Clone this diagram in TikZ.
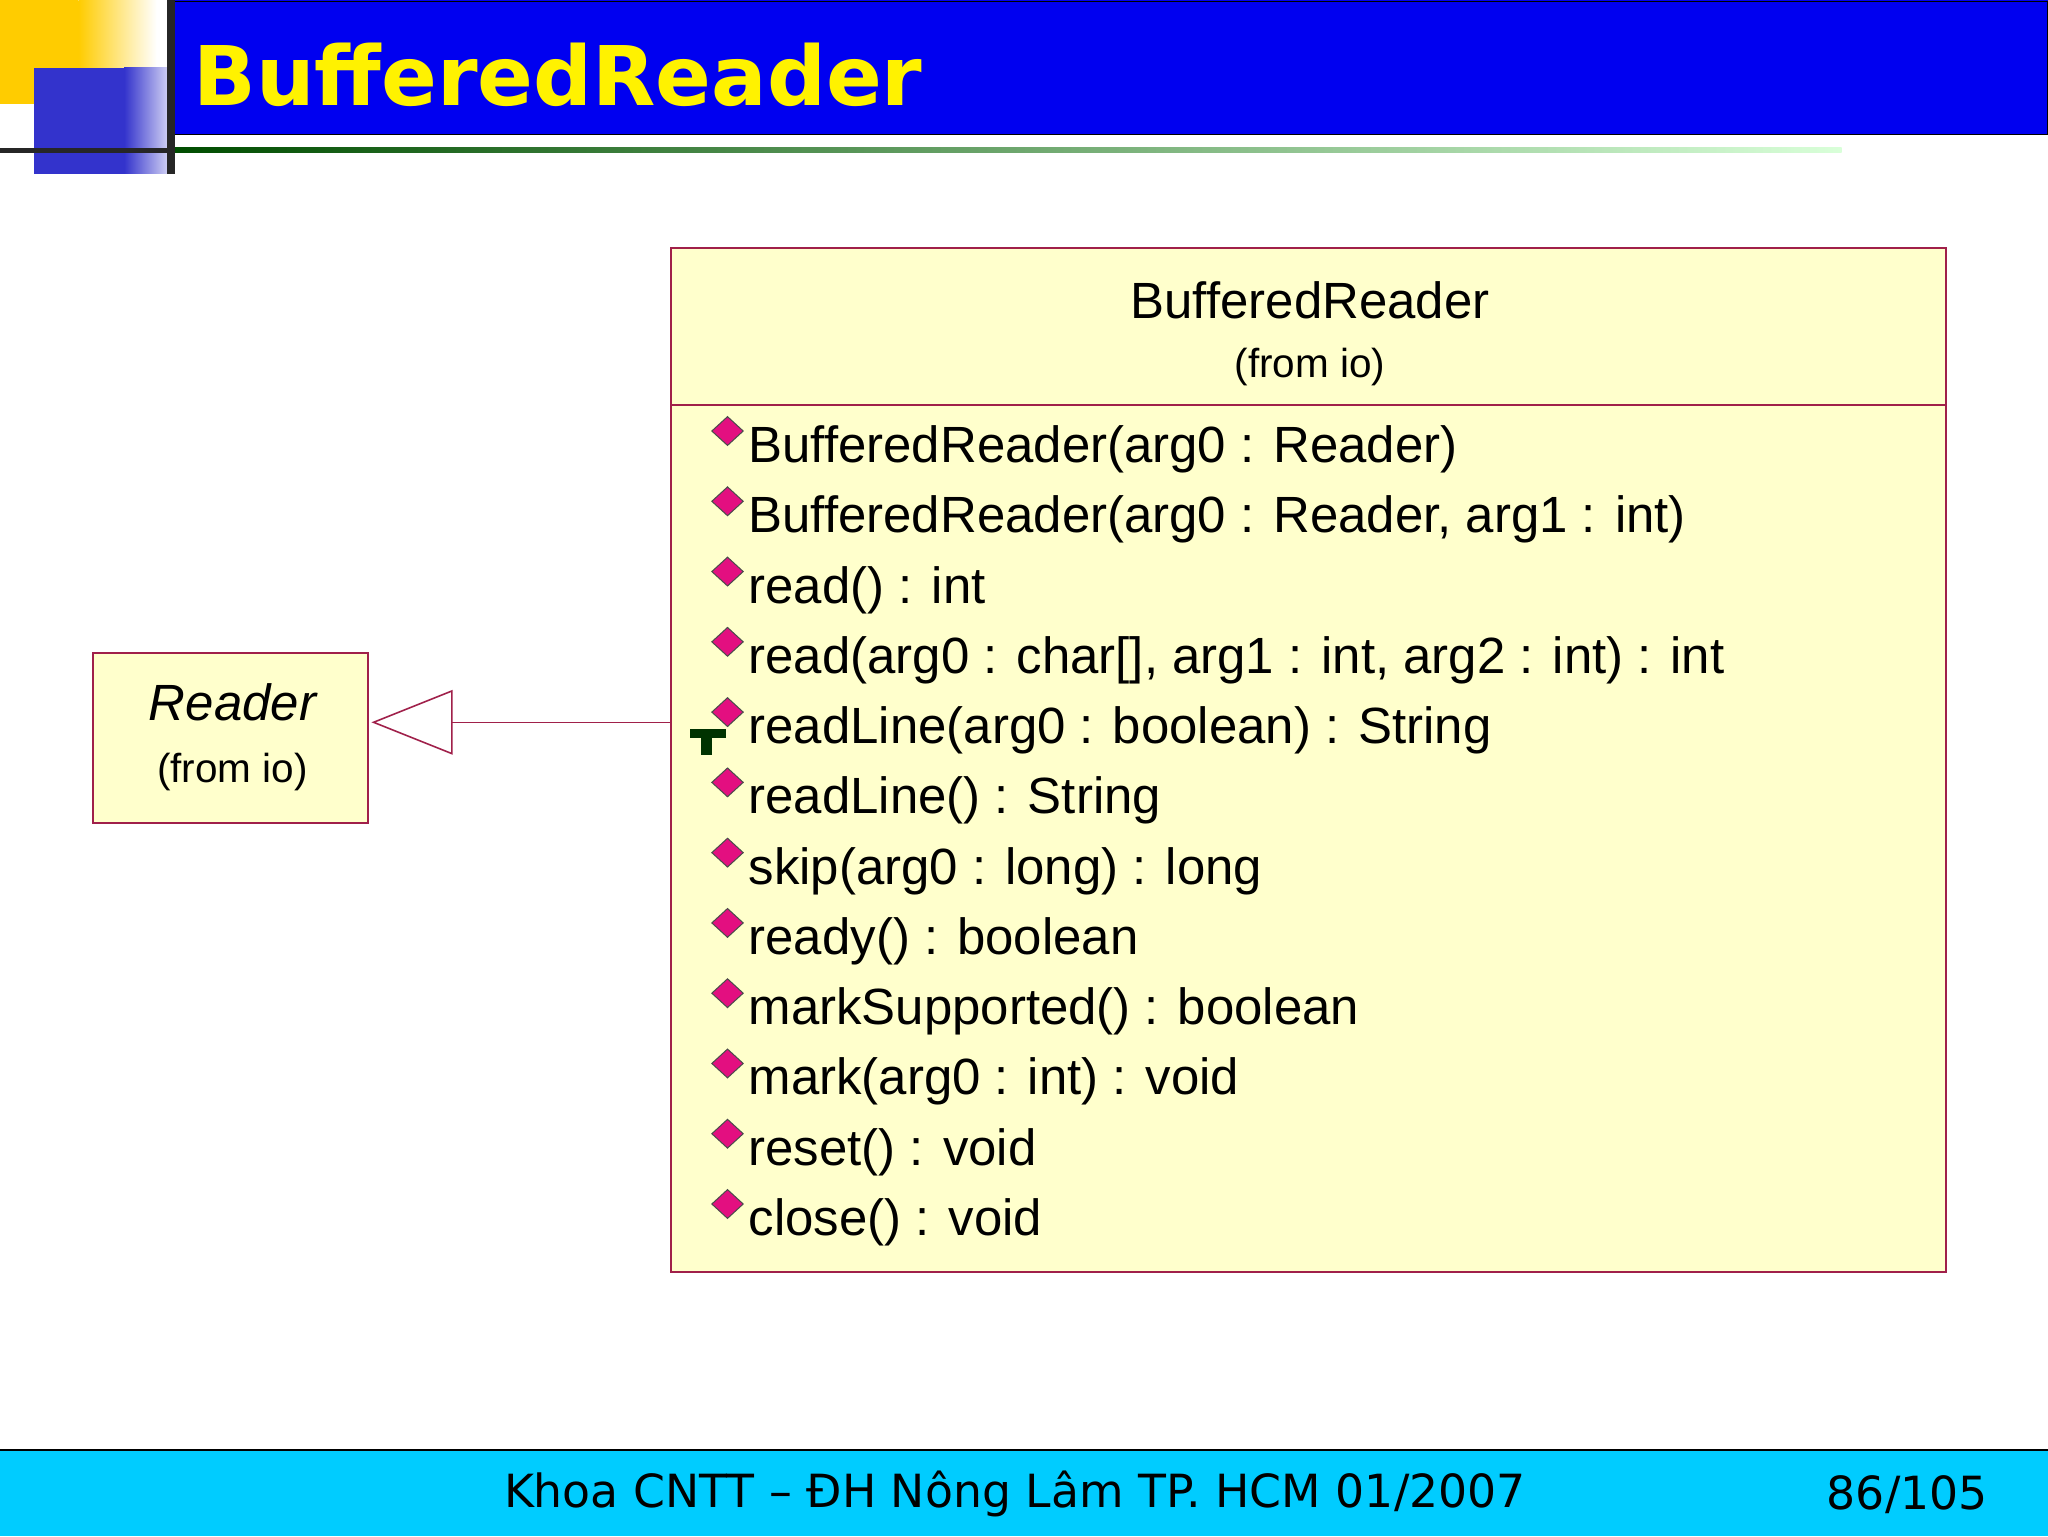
\documentclass[tikz,border=0pt]{standalone}
\usepackage{fontspec}
\setmainfont{Liberation Sans}
\newfontfamily\titlefont{DejaVu Sans}
\usetikzlibrary{shapes.geometric}
\definecolor{umlfill}{HTML}{FFFFCC}
\definecolor{umlline}{HTML}{A0204A}
\definecolor{barblue}{HTML}{0000F0}
\definecolor{footcyan}{HTML}{00CCFF}
\definecolor{sqyellow}{HTML}{FFCC00}
\definecolor{sqblue}{HTML}{3333CC}
\tikzset{
  umlbox/.style={draw=umlline,fill=umlfill,line width=1.5pt},
  meth/.style={anchor=west,inner sep=0pt,font=\fontsize{39}{42}\selectfont},
  icon/.style={fill=magenta!80!purple,draw=black!70,line width=0.8pt},
}
\begin{document}
\begin{tikzpicture}[x=1pt,y=-1pt]
\useasboundingbox (0,0) rectangle (1568,1176);
\fill[white] (0,0) rectangle (1568,1176);
% header decoration
\shade[left color=sqyellow,right color=white] (60,0) rectangle (120,80);
\fill[sqyellow] (0,0) rectangle (60,80);
\shade[left color=sqblue,right color=sqblue!20] (95,52) rectangle (130,133);
\fill[sqblue] (26,52) rectangle (95,133);
\fill[barblue] (133,0) rectangle (1568,103);
\draw[black,line width=1pt] (133,1) -- (1568,1) -- (1568,103) -- (133,103);
\fill[black!85] (128,0) rectangle (134,133);
\fill[black!85] (0,113) rectangle (134,117);
\shade[left color=black!70!green,right color=green!15] (134,113) rectangle (1410,117);
\node[anchor=west,inner sep=0pt,text=yellow,font=\titlefont\bfseries\fontsize{63}{66}\selectfont] (title) at (148,57) {BufferedReader};
% footer
\fill[footcyan] (0,1110) rectangle (1568,1176);
\draw[black,line width=1.5pt] (0,1110) -- (1568,1110);
\node[font=\titlefont\fontsize{35}{38}\selectfont,inner sep=0pt] (foot) at (777,1144) {Khoa CNTT – ĐH Nông Lâm TP. HCM 01/2007};
\node[anchor=east,font=\titlefont\fontsize{35}{38}\selectfont,inner sep=0pt] (page) at (1522,1144) {86/105};
% UML class box
\draw[umlbox] (514,190) rectangle (1490,974);
\draw[umlline,line width=1.5pt] (514,310) -- (1490,310);
\node[font=\fontsize{39}{42}\selectfont] (cname) at (1003,230) {BufferedReader};
\node[font=\fontsize{31}{33}\selectfont] (cfrom) at (1003,281) {(from io)};
\coordinate (bl) at (514,553);
\foreach \t [count=\i] in {
 {BufferedReader(arg0 : Reader)},
 {BufferedReader(arg0 : Reader, arg1 : int)},
 {read() : int},
 {read(arg0 : char[], arg1 : int, arg2 : int) : int},
 {readLine(arg0 : boolean) : String},
 {readLine() : String},
 {skip(arg0 : long) : long},
 {ready() : boolean},
 {markSupported() : boolean},
 {mark(arg0 : int) : void},
 {reset() : void},
 {close() : void}} {
  \pgfmathsetmacro{\yy}{344+53.8*(\i-1)}
  \node[meth] (m\i) at (573,\yy) {\t};
  \draw[icon] (557,\yy-25) -- (569,\yy-14) -- (557,\yy-3) -- (545,\yy-14) -- cycle;
}
% readLine marker
\fill[black!80!green] (528,558) rectangle (556,565);
\fill[black!80!green] (537,558) rectangle (545,578);
% Reader box
\draw[umlbox] (71,500) rectangle (282,630);
\node[font=\itshape\fontsize{39}{42}\selectfont] (rname) at (178,538) {Reader};
\node[font=\fontsize{31}{33}\selectfont] (rfrom) at (178,591) {(from io)};
\coordinate (tip) at (286,553);
\draw[umlline,line width=1.2pt] (bl) -- (346,553);
\draw[umlline,line width=1.2pt,fill=white] (tip) -- (346,529) -- (346,577) -- cycle;
\end{tikzpicture}
\end{document}
